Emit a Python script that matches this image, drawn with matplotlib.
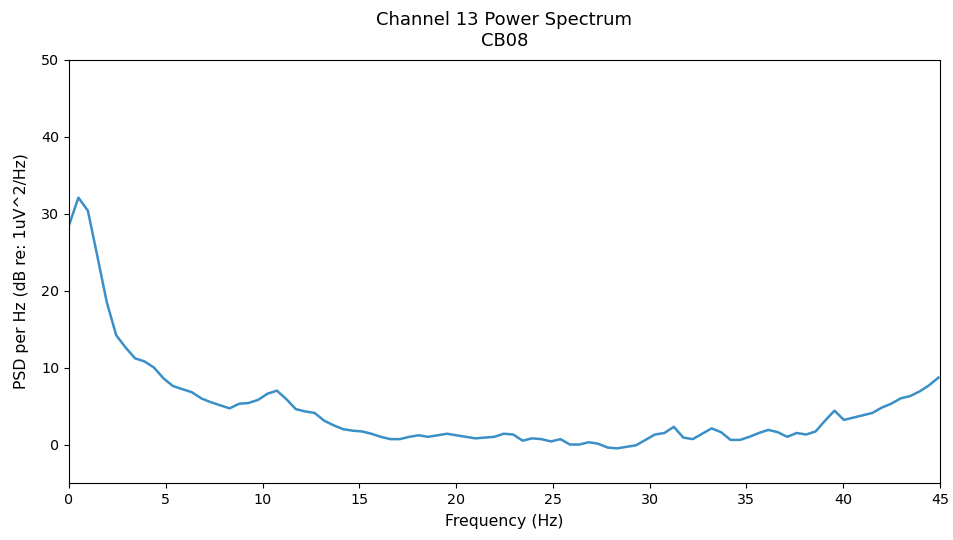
import numpy as np
import matplotlib
matplotlib.use("Agg")
import matplotlib.pyplot as plt

# Welch PSD bins: fs = 500 Hz, nfft = 1024 -> 0.488 Hz resolution
freq_step = 500.0 / 1024.0
psd_db = [
    28.5, 32.1, 30.4, 24.5, 18.5, 14.2, 12.6, 11.2, 10.8, 10.0,
    8.6, 7.6, 7.2, 6.8, 6.0, 5.5, 5.1, 4.7, 5.3, 5.4,
    5.8, 6.6, 7.0, 5.9, 4.6, 4.3, 4.1, 3.1, 2.5, 2.0,
    1.8, 1.7, 1.4, 1.0, 0.7, 0.7, 1.0, 1.2, 1.0, 1.2,
    1.4, 1.2, 1.0, 0.8, 0.9, 1.0, 1.4, 1.3, 0.5, 0.8,
    0.7, 0.4, 0.7, 0.0, 0.0, 0.3, 0.1, -0.4, -0.5, -0.3,
    -0.1, 0.6, 1.3, 1.5, 2.3, 0.9, 0.7, 1.4, 2.1, 1.6,
    0.6, 0.6, 1.0, 1.5, 1.9, 1.6, 1.0, 1.5, 1.3, 1.7,
    3.1, 4.4, 3.2, 3.5, 3.8, 4.1, 4.8, 5.3, 6.0, 6.3,
    6.9, 7.7, 8.7,
]
freqs = np.arange(len(psd_db)) * freq_step

channel = 13
subject = "CB08"

fig, ax = plt.subplots(figsize=(9.54, 5.4), dpi=100)
fig.subplots_adjust(left=0.0723, right=0.9853, top=0.889, bottom=0.1056)

ax.plot(freqs, psd_db, color="#3a8fc7", linewidth=1.8)

ax.set_xlim(0, 45)
ax.set_ylim(-5, 50)
ax.set_xticks(np.arange(0, 46, 5))
ax.set_yticks(np.arange(0, 51, 10))
ax.tick_params(labelsize=10.3)
ax.set_xlabel("Frequency (Hz)", fontsize=11.3, labelpad=5)
ax.set_ylabel("PSD per Hz (dB re: 1uV^2/Hz)", fontsize=11.3, labelpad=9)
ax.set_title(f"Channel {channel} Power Spectrum\n{subject}", fontsize=13, pad=10,
             linespacing=1.2)

fig.savefig("out.png", dpi=100)
